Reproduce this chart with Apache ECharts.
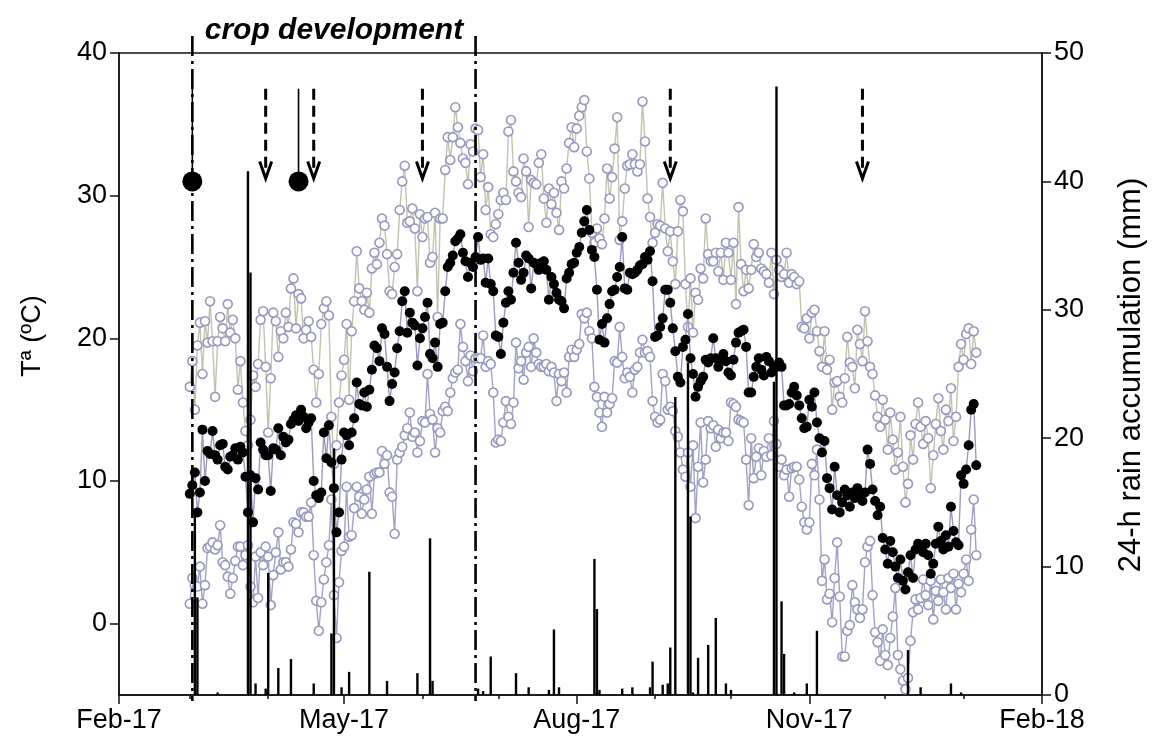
<!DOCTYPE html>
<html><head><meta charset="utf-8">
<script src="https://cdn.jsdelivr.net/npm/echarts@6/dist/echarts.min.js"></script>
<style>html,body{margin:0;padding:0;background:#fff}#c{width:1152px;height:749px}</style>
</head><body><div id="c"></div>
<script>
// ---- data (daily, first day below) ----
const firstDay = '2017-03-01';
const tmax = [
16.6,18.4,15.0,19.5,21.1,17.5,21.2,19.7,22.6,19.8,15.9,19.8,21.5,20.7,19.8,22.4,20.4,21.3,20.0,16.4,18.4,15.5,13.5,12.5,14.3,17.4,16.6,18.2,21.3,21.9,18.0,
13.4,17.2,21.8,21.2,18.7,20.5,20.0,21.8,20.8,23.5,24.2,20.7,23.1,22.8,20.0,20.6,21.2,20.1,17.8,15.5,17.5,21.0,22.1,22.6,21.6,14.5,11.2,12.5,15.5,17.4,
18.5,21.0,15.7,20.5,22.6,26.1,23.5,22.6,22.0,23.2,21.8,24.9,26.0,25.2,26.7,28.4,27.9,25.9,23.3,23.1,25.0,25.9,29.0,31.0,32.1,28.1,28.2,29.1,27.7,23.3,28.7,
27.1,28.4,28.5,25.3,25.7,28.8,21.5,28.4,28.4,31.8,34.1,32.5,34.1,36.2,34.8,33.7,32.6,32.3,30.8,33.6,33.1,34.7,34.6,31.3,32.9,29.0,30.6,27.3,27.1,28.0,
28.7,29.7,30.2,29.7,34.5,35.3,31.7,31.0,30.2,29.9,32.6,31.7,27.8,31.1,30.9,30.8,32.3,32.9,29.8,28.1,30.5,29.4,30.2,28.8,27.6,31.0,30.5,31.9,33.7,34.8,33.4,
34.7,35.6,36.2,36.7,33.1,31.2,27.4,26.7,27.7,27.0,26.6,28.4,31.9,29.8,31.3,33.3,35.5,26.9,28.2,30.5,32.1,32.2,32.9,32.2,31.7,32.2,36.6,33.8,29.8,28.5,26.7,
27.4,28.0,27.9,30.9,27.7,26.1,27.5,25.4,23.8,27.5,29.7,28.9,23.8,20.8,24.2,20.4,23.2,22.7,24.9,24.2,28.4,25.9,25.4,25.4,26.0,24.7,26.0,24.1,26.7,26.0,
24.1,26.7,22.4,29.2,25.2,23.3,24.8,23.5,24.8,26.6,25.7,26.0,24.9,24.7,24.5,23.9,26.0,23.1,25.5,24.8,24.3,24.5,26.0,23.9,24.5,24.3,23.8,24.0,20.8,20.7,21.4,
20.0,21.8,22.0,20.5,19.1,18.0,20.5,17.8,18.5,15.0,16.9,17.0,15.9,15.5,17.2,20.1,18.3,18.0,16.5,20.6,19.6,18.4,21.9,19.8,18.0,17.5,16.0,14.5,13.8,15.7,
14.3,12.2,14.8,12.9,10.8,12.0,14.5,11.0,8.5,9.8,13.2,11.5,14.0,15.5,13.8,12.6,14.2,13.0,9.5,11.8,14.0,15.8,13.5,12.2,15.0,14.2,16.5,12.8,14.5,18.0,19.6,
18.5,20.3,20.7,18.2,20.5,19.0
];
const tmean = [
9.1,9.7,10.6,7.8,9.2,13.6,10.0,12.1,11.9,13.5,11.8,11.5,12.5,12.6,11.0,10.8,11.7,11.8,12.3,11.5,12.4,12.0,10.3,7.8,10.4,7.1,10.2,9.4,12.7,12.2,11.8,
11.8,9.3,12.3,12.2,13.7,11.8,13.1,12.7,12.9,14.0,14.3,14.6,14.2,15.0,14.5,13.7,14.1,14.4,10.0,9.0,8.8,9.2,13.4,11.6,13.9,11.3,9.5,6.4,7.8,11.5,
13.4,13.2,12.5,13.4,14.4,16.9,15.4,15.3,16.2,15.2,16.4,17.8,19.5,19.3,18.4,20.7,20.3,18.0,15.6,16.8,17.6,19.3,20.5,22.6,23.3,20.4,21.8,21.1,20.9,18.1,20.0,
20.7,21.5,22.5,18.9,18.6,19.7,18.0,21.0,21.1,23.3,25.0,25.3,25.8,26.8,27.0,27.3,26.0,25.4,24.3,25.3,25.0,25.7,27.1,25.5,25.6,23.9,25.6,23.8,23.3,20.2,
20.1,18.9,21.1,22.5,23.3,22.7,24.6,26.7,25.3,24.1,24.6,25.8,25.6,23.5,25.3,25.2,24.8,25.3,25.4,24.8,22.7,24.3,23.8,23.2,22.7,22.6,22.1,24.2,24.6,25.2,25.3,
26.0,26.4,27.4,28.2,29.0,27.6,26.2,25.7,23.4,19.9,21.0,19.7,21.4,22.4,23.3,23.4,24.3,25.0,27.1,23.5,23.4,24.6,24.5,24.6,24.8,25.1,25.2,25.7,25.5,26.1,24.0,
20.1,20.2,20.8,21.4,23.4,23.4,22.5,20.7,19.1,17.3,16.9,19.4,19.9,21.7,18.6,17.5,15.9,16.6,17.0,17.3,18.5,18.3,18.6,20.0,18.6,18.0,18.5,18.9,18.4,17.6,
17.4,18.5,19.7,20.4,20.5,20.6,19.4,16.2,16.2,17.3,18.0,18.6,17.8,17.4,18.7,18.4,17.6,18.0,18.0,18.3,18.0,15.3,15.3,15.4,16.2,16.6,16.0,15.3,14.4,13.7,13.8,
15.7,15.2,16.2,14.1,13.0,12.0,12.8,10.2,9.5,8.0,11.0,9.0,7.8,8.5,9.4,9.0,8.2,9.2,8.8,9.5,9.0,8.6,9.2,12.2,11.2,9.4,8.6,7.6,8.2,6.0,
5.2,4.2,5.8,5.0,4.0,3.2,4.5,3.0,2.4,3.6,4.8,3.2,5.2,5.6,5.4,5.0,5.6,4.8,3.5,4.2,5.6,6.8,5.8,5.2,6.2,5.4,8.2,6.5,5.7,5.5,10.4,
9.8,10.8,12.5,15.0,15.4,11.1
];
const tmin = [
1.4,3.2,2.7,2.6,4.0,1.4,2.7,5.3,5.4,5.7,5.2,5.5,6.9,4.3,4.1,3.3,2.1,3.2,4.4,5.4,5.4,4.1,4.8,5.5,2.6,1.5,4.7,1.8,5.0,4.1,5.4,
4.7,1.3,3.4,5.0,6.4,3.8,4.3,4.3,4.0,5.2,7.1,7.0,6.4,7.8,7.8,7.5,7.5,8.5,4.8,1.6,-0.5,1.5,3.1,4.3,5.5,8.7,2.0,-1.0,2.9,5.1,
5.4,9.6,6.1,6.2,8.1,9.6,8.9,7.7,8.7,9.4,10.3,7.7,10.5,10.6,10.6,12.1,11.2,11.8,9.2,8.9,6.3,11.5,12.0,12.4,13.2,13.7,14.8,13.1,13.4,12.0,12.8,
14.2,14.1,17.5,14.7,14.3,12.0,13.7,13.4,14.9,15.2,14.9,16.2,17.2,17.6,17.8,21.0,19.4,18.4,17.0,18.8,17.7,18.6,18.6,18.6,20.2,18.0,18.4,18.2,16.2,12.7,
12.9,12.8,14.1,15.6,14.5,14.0,15.5,19.7,17.9,18.4,17.1,19.0,19.4,18.0,20.0,19.0,18.2,18.0,18.0,18.2,17.7,18.0,17.6,15.6,17.5,17.0,17.6,16.2,18.7,19.2,18.7,
19.2,19.6,21.7,21.4,21.8,20.5,20.0,16.6,15.9,14.8,13.8,15.9,14.8,15.4,15.8,18.4,18.3,20.8,18.7,17.2,17.6,17.3,16.2,17.8,18.0,19.0,19.9,19.0,19.1,18.7,15.6,
14.5,14.1,14.3,17.5,17.0,15.0,15.2,14.9,13.5,13.1,12.0,10.8,10.3,12.0,9.6,12.5,7.4,11.0,14.1,9.9,11.5,14.2,13.7,13.9,12.4,13.6,13.0,13.4,13.4,12.8,
15.5,15.4,15.2,14.3,14.2,14.1,11.5,8.3,13.0,10.2,11.7,12.3,10.4,12.1,11.7,13.0,11.8,14.2,12.6,11.0,11.5,10.4,10.8,8.9,10.9,11.0,11.0,10.1,8.2,7.1,6.6,
7.1,11.2,10.4,12.2,8.7,3.0,4.5,1.7,2.1,0.1,3.2,5.7,1.9,-2.3,-2.3,-0.5,-0.1,2.7,1.5,1.0,0.4,1.0,4.3,5.4,5.8,2.0,-0.6,-1.3,-2.6,-0.4,
-2.2,-2.9,-1.0,0.5,2.5,-2.2,-3.2,-4.0,-4.6,-3.8,-1.2,0.8,1.7,1.0,1.8,3.1,2.0,1.3,3.0,0.3,2.3,1.6,3.1,2.2,1.0,3.2,2.5,3.5,1.0,2.8,2.2,
3.5,4.5,3.0,6.6,8.7,4.8
];
const rainDates = ['2017-03-03','2017-03-04','2017-03-12','2017-03-24','2017-03-25','2017-03-27','2017-03-31','2017-04-01','2017-04-05','2017-04-10',
'2017-04-19','2017-04-26','2017-04-27','2017-04-30','2017-05-03','2017-05-11','2017-05-18','2017-05-30','2017-06-04','2017-06-05',
'2017-06-23','2017-06-25','2017-06-28','2017-07-08','2017-07-13','2017-07-21','2017-07-23','2017-07-25','2017-08-08','2017-08-09',
'2017-08-10','2017-08-19','2017-08-23','2017-08-30','2017-08-31','2017-09-04','2017-09-06','2017-09-07','2017-09-09','2017-09-14',
'2017-09-15','2017-09-16','2017-09-18','2017-09-22','2017-09-25','2017-09-29','2017-10-01','2017-10-18','2017-10-19','2017-10-21',
'2017-10-22','2017-10-26','2017-10-31','2017-11-04','2017-12-10','2017-12-15','2017-12-27','2017-12-31'];
const rainMm = [14.2,7.6,0.2,40.8,32.9,0.9,0.5,9.5,2.1,2.8,
0.9,4.8,19.2,0.6,1.8,9.6,1.1,1.7,12.2,1.1,
0.5,0.3,3.0,1.7,0.6,0.4,5.1,0.6,10.6,6.7,
0.4,0.5,0.6,0.6,2.6,0.8,0.9,3.7,23.2,25.9,
13.9,0.2,2.9,3.9,6.0,0.9,0.4,24.4,47.4,7.3,
3.2,0.2,0.9,5.0,3.5,0.6,0.9,0.2];
const tickDates = ['2017-02-01','2017-05-01','2017-08-01','2017-11-01','2018-02-01'];
const tickLabels = ['Feb-17','May-17','Aug-17','Nov-17','Feb-18'];
const monthDates = ['2017-03-01','2017-04-01','2017-06-01','2017-07-01','2017-09-01','2017-10-01','2017-12-01','2018-01-01'];
const tempTicks = [0,10,20,30,40];
const cropDates = ['2017-03-02','2017-06-22'];
const cropLabel = 'crop development';
const leftTitle = 'Tª (ºC)';
const rightTitle = '24-h rain accumulation (mm)';
const sowDates = ['2017-03-02','2017-04-13'];
const sowLevel = 31;
const arrowDates = ['2017-03-31','2017-04-19','2017-06-01','2017-09-07','2017-11-22'];
const markTop = 37.5, arrowTip = 31.2;

// ---- helpers ----
const origin = Date.UTC(2017,1,1);
function dayNum(s){const p=s.split('-').map(Number);return (Date.UTC(p[0],p[1]-1,p[2])-origin)/86400000;}
const d0 = dayNum(firstDay);
const tickDays = tickDates.map(dayNum);
const monthDays = monthDates.map(dayNum);
const FONT = '"Liberation Sans", Arial, sans-serif';
const AX = {color:'#111',width:1.5};

const chart = echarts.init(document.getElementById('c'));
const open = (v,i)=>[d0+i,v];
chart.setOption({
  animation:false,
  backgroundColor:'#fff',
  grid:{left:119,right:110,top:53,bottom:54,show:true,borderColor:'#111',borderWidth:1.5,backgroundColor:'transparent'},
  xAxis:[{
    type:'value',min:0,max:365,
    axisLine:{show:true,onZero:false,lineStyle:AX},
    axisTick:{show:true,customValues:tickDays,length:9,lineStyle:AX},
    axisLabel:{customValues:tickDays,formatter:v=>tickLabels[tickDays.indexOf(v)],fontFamily:FONT,fontSize:27,color:'#000',margin:12},
    splitLine:{show:false}
  },{
    type:'value',min:0,max:365,position:'bottom',
    axisLine:{show:false,onZero:false},
    axisTick:{show:true,customValues:monthDays,length:4,lineStyle:AX},
    axisLabel:{show:false},splitLine:{show:false}
  }],
  yAxis:[{
    type:'value',min:-5,max:40,
    axisLine:{show:true,onZero:false,lineStyle:AX},
    axisTick:{show:true,customValues:tempTicks,length:9,lineStyle:AX},
    axisLabel:{customValues:tempTicks,fontFamily:FONT,fontSize:27,color:'#000',margin:12},
    splitLine:{show:false}
  },{
    type:'value',min:0,max:50,interval:10,position:'right',
    axisLine:{show:true,onZero:false,lineStyle:AX},
    axisTick:{show:true,length:9,lineStyle:AX},
    axisLabel:{fontFamily:FONT,fontSize:27,color:'#000',margin:12},
    splitLine:{show:false}
  }],
  series:[
    {name:'Tmax',type:'line',data:tmax.map(open),symbol:'circle',symbolSize:9,showAllSymbol:true,
     lineStyle:{color:'#c2c2b2',width:1.4},itemStyle:{color:'#fff',borderColor:'#9898bd',borderWidth:1.6},z:2},
    {name:'Tmin',type:'line',data:tmin.map(open),symbol:'circle',symbolSize:9,showAllSymbol:true,
     lineStyle:{color:'#a2a2c2',width:1.4},itemStyle:{color:'#fff',borderColor:'#9898bd',borderWidth:1.6},z:3},
    {name:'Tmean',type:'line',data:tmean.map(open),symbol:'circle',symbolSize:10,showAllSymbol:true,
     lineStyle:{color:'#9a9aba',width:1.4},itemStyle:{color:'#000'},z:4},
    {name:'Rain',type:'bar',yAxisIndex:1,data:rainDates.map((d,i)=>[dayNum(d),rainMm[i]]),
     barWidth:2.4,itemStyle:{color:'#000'},z:5}
  ]
});

// ---- annotations positioned through the axes ----
function px(day,t){return chart.convertToPixel({xAxisIndex:0,yAxisIndex:0},[day,t]);}
const g=[];
const topY = px(0,40)[1], botY = px(0,-5)[1], leftX = px(0,0)[0], rightX = px(365,0)[0];
cropDates.forEach(d=>{
  const x=px(dayNum(d),0)[0];
  g.push({type:'line',shape:{x1:x,y1:topY-17,x2:x,y2:botY+6},z:20,
    style:{stroke:'#000',lineWidth:2.6,lineDash:[20,5,3,5]}});
});
const cx=(px(dayNum(cropDates[0]),0)[0]+px(dayNum(cropDates[1]),0)[0])/2;
g.push({type:'text',x:cx,y:topY-22,z:20,style:{text:cropLabel,fontFamily:FONT,fontSize:30,fontWeight:'bold',fontStyle:'italic',fill:'#000',align:'center',verticalAlign:'middle'}});
g.push({type:'text',x:leftX-86,y:(topY+botY)/2-38,rotation:Math.PI/2,z:20,style:{text:leftTitle,fontFamily:FONT,fontSize:27,fill:'#000',align:'center',verticalAlign:'middle'}});
g.push({type:'text',x:rightX+89,y:(topY+botY)/2+1,rotation:Math.PI/2,z:20,style:{text:rightTitle,fontFamily:FONT,fontSize:31,fill:'#000',align:'center',verticalAlign:'middle'}});
sowDates.forEach(d=>{
  const a=px(dayNum(d),markTop), b=px(dayNum(d),sowLevel);
  g.push({type:'line',shape:{x1:a[0],y1:a[1],x2:b[0],y2:b[1]},z:20,style:{stroke:'#000',lineWidth:1.6}});
  g.push({type:'circle',shape:{cx:b[0],cy:b[1],r:10},z:21,style:{fill:'#000'}});
});
arrowDates.forEach(d=>{
  const a=px(dayNum(d),markTop), b=px(dayNum(d),arrowTip);
  g.push({type:'line',shape:{x1:a[0],y1:a[1],x2:b[0],y2:b[1]-2},z:20,style:{stroke:'#000',lineWidth:3,lineDash:[11,6]}});
  g.push({type:'polyline',shape:{points:[[b[0]-6,b[1]-17],[b[0],b[1]],[b[0]+6,b[1]-17]]},z:20,style:{stroke:'#000',lineWidth:3,fill:null}});
});
chart.setOption({graphic:g});
</script></body></html>
